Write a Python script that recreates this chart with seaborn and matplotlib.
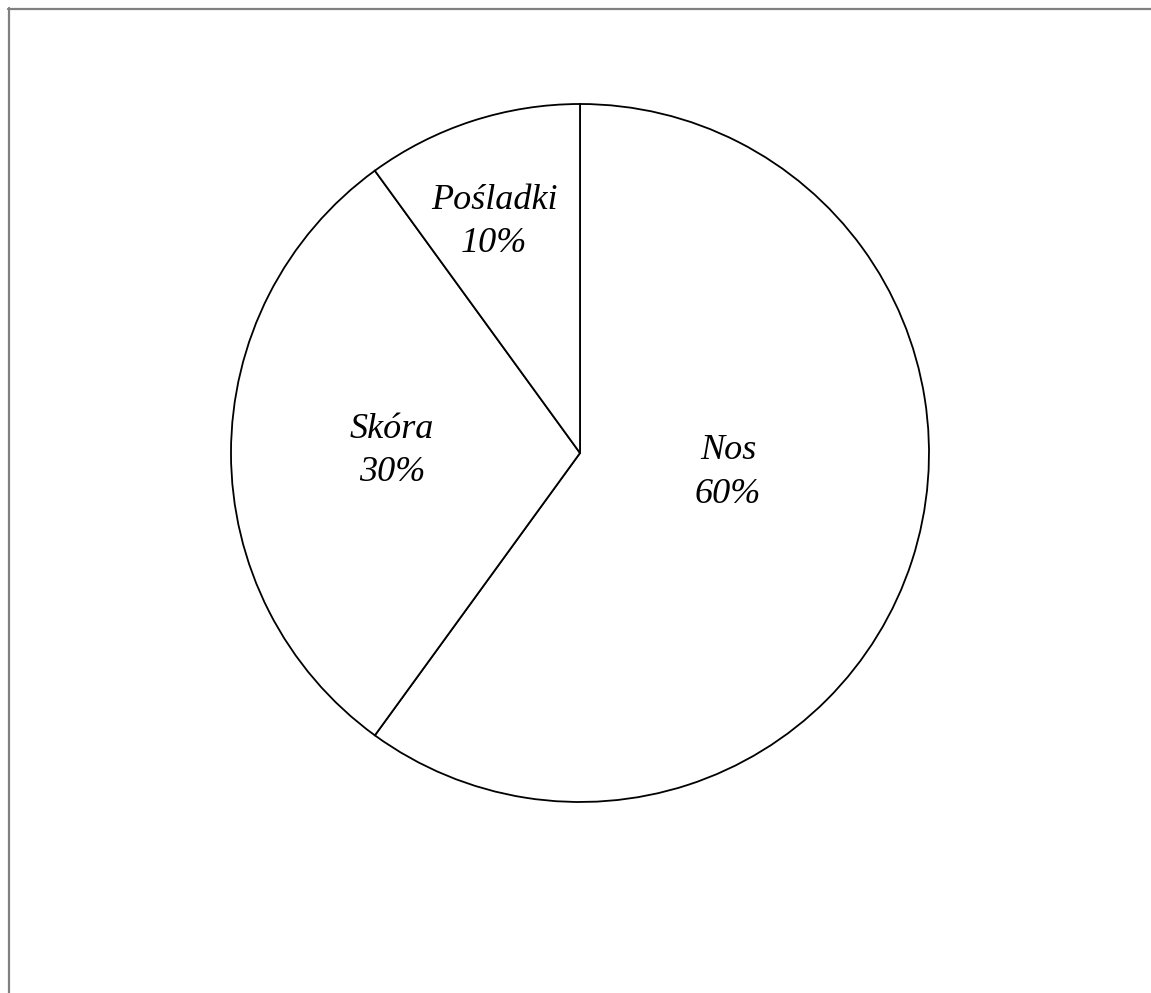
import matplotlib
matplotlib.use("Agg")
import matplotlib.pyplot as plt
from matplotlib.lines import Line2D
import matplotlib.transforms as mtransforms
import seaborn as sns
import numpy as np

categories = ["Nos", "Skóra", "Pośladki"]
values = [60, 30, 10]

sns.set_theme(style="white")
plt.rcParams['font.family'] = ['Liberation Serif', 'DejaVu Serif']

W, H = 1151, 993
fig = plt.figure(figsize=(W / 100, H / 100), dpi=100)
fig.patch.set_facecolor("white")

cx, cy, r = 580, 453, 349
ax = fig.add_axes([(cx - r) / W, (H - cy - r) / H, 2 * r / W, 2 * r / H])
wedges, _ = ax.pie(values, startangle=90, counterclock=False,
                   colors=["white"] * len(values),
                   wedgeprops=dict(edgecolor="black", linewidth=1.3))
ax.set_xlim(-1, 1)
ax.set_ylim(-1, 1)
ax.axis("off")

text_tr = mtransforms.offset_copy(ax.transData, fig=fig, x=0, y=-4, units="dots")

# label placement (radius fraction, angle shift in degrees) per wedge
label_place = [(0.427, 12), (0.539, -1.8), (0.717, 2.1)]
for w, cat, val, (rf, dang) in zip(wedges, categories, values, label_place):
    ang = np.deg2rad((w.theta1 + w.theta2) / 2 + dang)
    ax.text(rf * np.cos(ang), rf * np.sin(ang), f"{cat}\n{val}%",
            ha="center", va="center", fontsize=26, style="italic",
            linespacing=1.42, color="black", transform=text_tr)

# figure frame (left and top edges)
fig.add_artist(Line2D([8.5 / W, 8.5 / W], [0, 1 - 8 / H], transform=fig.transFigure,
                      color="#808080", linewidth=1.6))
fig.add_artist(Line2D([8 / W, 1], [1 - 9 / H, 1 - 9 / H], transform=fig.transFigure,
                      color="#808080", linewidth=1.6))

fig.savefig("out.png", dpi=100, facecolor="white")
